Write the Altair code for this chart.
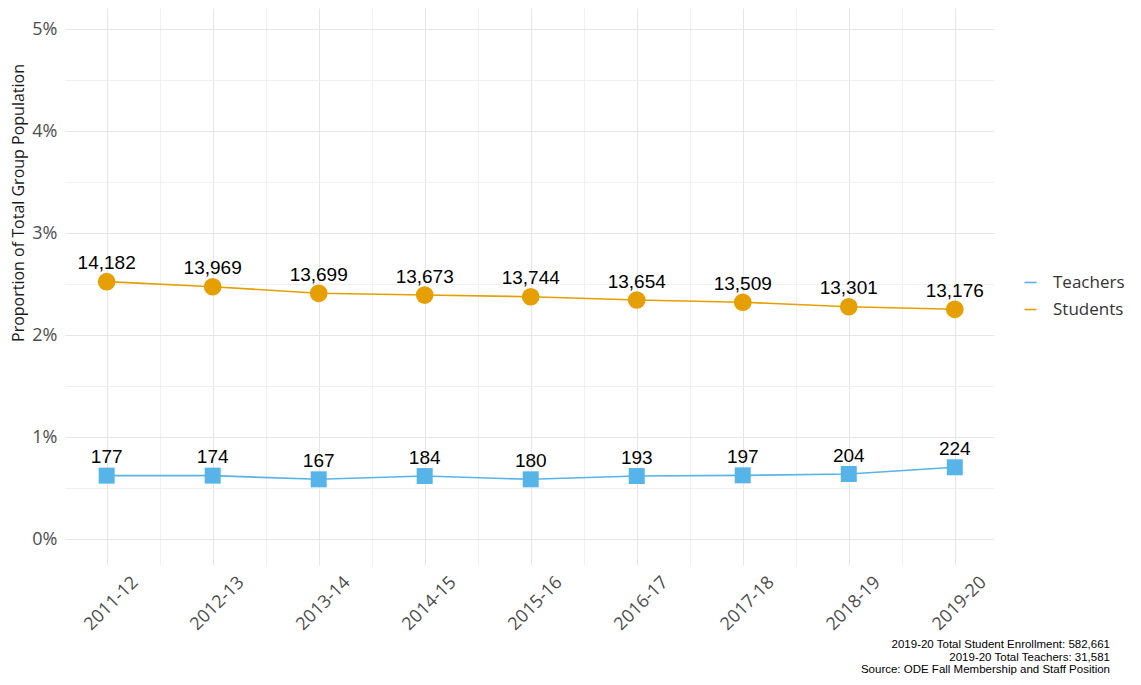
import altair as alt
import pandas as pd

years = ["2011-12", "2012-13", "2013-14", "2014-15", "2015-16",
         "2016-17", "2017-18", "2018-19", "2019-20"]
students_n = [14182, 13969, 13699, 13673, 13744, 13654, 13509, 13301, 13176]
teachers_n = [177, 174, 167, 184, 180, 193, 197, 204, 224]
students_pct = [0.02526, 0.02476, 0.02412, 0.02395, 0.02378, 0.02346, 0.02324, 0.02280, 0.02255]
teachers_pct = [0.00624, 0.00624, 0.00588, 0.00620, 0.00588, 0.00620, 0.00627, 0.00640, 0.00706]
groups = ["Teachers", "Students"]
group_colors = ["#56B4E9", "#E69F00"]
caption = ["2019-20 Total Student Enrollment: 582,661",
           "2019-20 Total Teachers: 31,581",
           "Source: ODE Fall Membership and Staff Position"]

rows = []
for i, yr in enumerate(years):
    rows.append({"idx": i, "year": yr, "group": "Teachers", "pct": teachers_pct[i], "n": teachers_n[i]})
    rows.append({"idx": i, "year": yr, "group": "Students", "pct": students_pct[i], "n": students_n[i]})
df = pd.DataFrame(rows)

year_arr = "[" + ",".join("'" + y + "'" for y in years) + "]"

grid_y = {"condition": {"test": "round(datum.value*200) % 2 == 0", "value": "#E6E6E6"}, "value": "#F0F0F0"}
grid_x = {"condition": {"test": "datum.value % 1 == 0", "value": "#E6E6E6"}, "value": "#F0F0F0"}

x = alt.X("idx:Q",
          scale=alt.Scale(domain=[-0.393, 8.37], nice=False, zero=False),
          axis=alt.Axis(values=[i * 0.5 for i in range(17)],
                        labelExpr="datum.value % 1 == 0 ? " + year_arr + "[datum.value] : ''",
                        labelAngle=-45, labelFont="Open Sans", labelFontSize=18,
                        labelColor="#4D4D4D", labelFlush=False, labelOverlap=False,
                        labelPadding=8, labelOffset=22, ticks=False, domain=False, grid=True,
                        gridColor=grid_x, title=None))
y = alt.Y("pct:Q",
          scale=alt.Scale(domain=[-0.00252, 0.05209], nice=False, zero=False),
          axis=alt.Axis(values=[i * 0.005 for i in range(11)],
                        labelExpr="round(datum.value*200) % 2 == 0 ? format(datum.value, '.0%') : ''",
                        labelFont="Open Sans", labelFontSize=18, labelColor="#4D4D4D",
                        labelPadding=8, ticks=False, domain=False, grid=True,
                        gridColor=grid_y, labelOverlap=False,
                        title="Proportion of Total Group Population",
                        titleFont="Open Sans", titleFontSize=16, titleFontWeight="normal",
                        titleColor="#1A1A1A", titleAngle=270, titleAlign="center",
                        titleBaseline="alphabetic", titleX=-42, titleY=194.5))

base = alt.Chart(df)

lines = base.mark_line(strokeWidth=1.6).encode(
    x=x, y=y,
    color=alt.Color("group:N",
                    scale=alt.Scale(domain=groups, range=group_colors),
                    legend=alt.Legend(title=None, orient="none", legendX=957, legendY=266,
                                      symbolType="stroke", symbolSize=144, symbolStrokeWidth=1.6,
                                      labelFont="Open Sans", labelFontSize=17, labelColor="#333333",
                                      labelOffset=14, rowPadding=9, padding=0)),
    detail="group:N",
)

pts_students = base.transform_filter(alt.datum.group == "Students").mark_point(
    shape="circle", filled=True, opacity=1, size=314, color=group_colors[1]
).encode(x=x, y=y)

pts_teachers = base.transform_filter(alt.datum.group == "Teachers").mark_point(
    shape="square", filled=True, opacity=1, size=256, color=group_colors[0]
).encode(x=x, y=y)

labels = base.mark_text(
    dy=-18.5, baseline="middle", align="center",
    font="Liberation Sans", fontSize=19, color="black"
).encode(x=x, y=y, text=alt.Text("n:Q", format=","))

chart = alt.layer(lines, pts_students, pts_teachers, labels).properties(
    width=929, height=557,
    padding={"left": 57, "top": 0, "right": 139, "bottom": 112},
    autosize=alt.AutoSizeParams(type="none"),
    title=alt.TitleParams(text=caption, orient="bottom", anchor="end", frame="group",
                          font="Liberation Sans", fontSize=11.5, fontWeight="normal",
                          color="black", lineHeight=12.5, dx=116, offset=6, align="right"),
).configure_view(strokeWidth=0)

chart.save("out.html", embed_options={"renderer": "svg", "actions": False})
